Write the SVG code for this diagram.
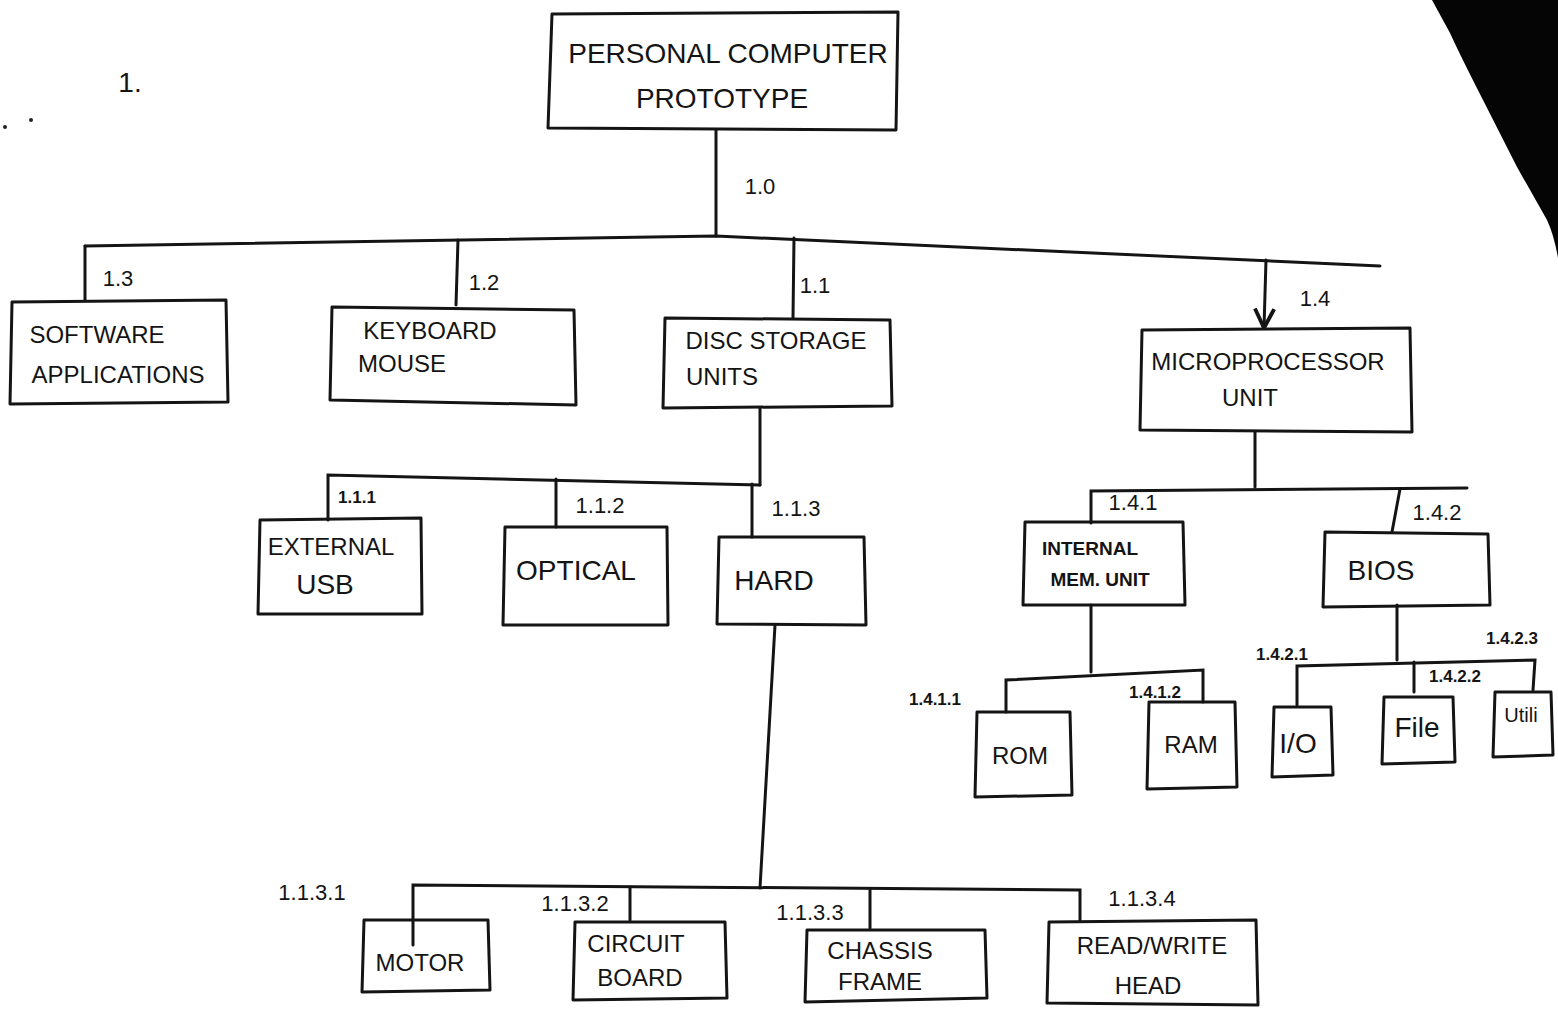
<svg xmlns="http://www.w3.org/2000/svg" width="1558" height="1011" viewBox="0 0 1558 1011">
<defs>
<style>
.box{fill:none;stroke:#141414;stroke-width:3;stroke-linejoin:round;stroke-linecap:round}
.ln{fill:none;stroke:#141414;stroke-width:3;stroke-linecap:round}
.t{font-family:"Liberation Sans",Arial,sans-serif;font-size:24px;fill:#141414;text-anchor:middle}
.tb{font-family:"Liberation Sans",Arial,sans-serif;font-size:28px;fill:#141414;text-anchor:middle}
.lb{font-family:"Liberation Sans",Arial,sans-serif;font-size:22px;fill:#141414;text-anchor:middle}
.ls{font-family:"Liberation Sans",Arial,sans-serif;font-size:17px;font-weight:bold;fill:#141414;text-anchor:middle}
</style>
<marker id="arr" viewBox="0 0 10 10" refX="9" refY="5" markerWidth="8" markerHeight="8" orient="auto-start-reverse">
<path d="M1,1 L9,5 L1,9" fill="none" stroke="#141414" stroke-width="1.6"/>
</marker>
</defs>
<rect width="1558" height="1011" fill="#ffffff"/>
<path d="M1432,0 L1558,0 L1558,258 Q1554,235 1547,220 L1517,167 L1483,100 Q1460,55 1450,33 Z" fill="#050505"/>
<text x="130" y="92" class="tb">1.</text>
<circle cx="5" cy="127" r="2" fill="#222"/>
<circle cx="31" cy="120" r="2" fill="#222"/>

<g id="connectors">
<path class="ln" d="M716,130 L716,236"/>
<path class="ln" d="M85,246 L716,236 L1380,266"/>
<path class="ln" d="M85,246 L85,300"/>
<path class="ln" d="M458,240 L456,305"/>
<path class="ln" d="M794,238 L793,318"/>
<path class="ln" d="M1266,260 L1264,328" marker-end="url(#arr)"/>
<path class="ln" d="M760,408 L760,485"/>
<path class="ln" d="M328,520 L328,475 L760,485"/>
<path class="ln" d="M556,479 L556,527"/>
<path class="ln" d="M752,484 L752,537"/>
<path class="ln" d="M775,625 L760,888"/>
<path class="ln" d="M413,945 L413,885 L1080,890 L1080,920"/>
<path class="ln" d="M630,887 L630,920"/>
<path class="ln" d="M870,889 L870,928"/>
<path class="ln" d="M1255,432 L1255,487"/>
<path class="ln" d="M1091,523 L1091,491 L1467,488"/>
<path class="ln" d="M1400,489 L1392,532"/>
<path class="ln" d="M1091,605 L1091,672"/>
<path class="ln" d="M1006,712 L1006,680 L1203,670 L1203,702"/>
<path class="ln" d="M1397,605 L1397,660"/>
<path class="ln" d="M1297,705 L1297,666 L1535,660 L1533,690"/>
<path class="ln" d="M1414,662 L1414,692"/>
<text x="760" y="194" class="lb">1.0</text>
<text x="118" y="286" class="lb">1.3</text>
<text x="484" y="290" class="lb">1.2</text>
<text x="815" y="293" class="lb">1.1</text>
<text x="1315" y="306" class="lb">1.4</text>
<text x="357" y="503" class="ls">1.1.1</text>
<text x="600" y="513" class="lb">1.1.2</text>
<text x="796" y="516" class="lb">1.1.3</text>
<text x="312" y="900" class="lb">1.1.3.1</text>
<text x="575" y="911" class="lb">1.1.3.2</text>
<text x="810" y="920" class="lb">1.1.3.3</text>
<text x="1142" y="906" class="lb">1.1.3.4</text>
<text x="1133" y="510" class="lb">1.4.1</text>
<text x="1437" y="520" class="lb">1.4.2</text>
<text x="935" y="705" class="ls">1.4.1.1</text>
<text x="1155" y="698" class="ls">1.4.1.2</text>
<text x="1282" y="660" class="ls">1.4.2.1</text>
<text x="1455" y="682" class="ls">1.4.2.2</text>
<text x="1512" y="644" class="ls">1.4.2.3</text>
</g>

<g id="n-root"><path class="box" d="M552,14 L898,12 L896,130 L548,128 Z"/>
<text x="728" y="63" class="tb">PERSONAL COMPUTER</text><text x="722" y="108" class="tb">PROTOTYPE</text></g>
<g id="n-software"><path class="box" d="M12,302 L226,300 L228,402 L10,404 Z"/>
<text x="97" y="343" class="t">SOFTWARE</text><text x="118" y="383" class="t">APPLICATIONS</text></g>
<g id="n-keyboard"><path class="box" d="M332,307 L574,310 L576,405 L330,400 Z"/>
<text x="430" y="339" class="t">KEYBOARD</text><text x="402" y="372" class="t">MOUSE</text></g>
<g id="n-disc"><path class="box" d="M665,318 L890,320 L892,406 L663,408 Z"/>
<text x="776" y="349" class="t">DISC STORAGE</text><text x="722" y="385" class="t">UNITS</text></g>
<g id="n-micro"><path class="box" d="M1142,330 L1410,328 L1412,432 L1140,430 Z"/>
<text x="1268" y="370" class="t">MICROPROCESSOR</text><text x="1250" y="406" class="t">UNIT</text></g>
<g id="n-external"><path class="box" d="M260,520 L421,518 L422,614 L258,614 Z"/>
<text x="331" y="555" class="t">EXTERNAL</text><text x="325" y="594" class="tb">USB</text></g>
<g id="n-optical"><path class="box" d="M505,527 L667,527 L668,625 L503,625 Z"/>
<text x="576" y="580" class="tb">OPTICAL</text></g>
<g id="n-hard"><path class="box" d="M719,537 L864,537 L866,625 L717,624 Z"/>
<text x="774" y="590" class="tb">HARD</text></g>
<g id="n-motor"><path class="box" d="M364,920 L488,920 L490,990 L362,992 Z"/>
<text x="420" y="971" class="t">MOTOR</text></g>
<g id="n-circuit"><path class="box" d="M575,922 L725,922 L727,998 L573,1000 Z"/>
<text x="636" y="952" class="t">CIRCUIT</text><text x="640" y="986" class="t">BOARD</text></g>
<g id="n-chassis"><path class="box" d="M807,930 L985,930 L987,998 L805,1002 Z"/>
<text x="880" y="959" class="t">CHASSIS</text><text x="880" y="990" class="t">FRAME</text></g>
<g id="n-rw"><path class="box" d="M1049,922 L1256,920 L1258,1005 L1047,1003 Z"/>
<text x="1152" y="954" class="t">READ/WRITE</text><text x="1148" y="994" class="t">HEAD</text></g>
<g id="n-internal"><path class="box" d="M1025,522 L1183,522 L1185,605 L1023,605 Z"/>
<text x="1090" y="555" class="ls" style="font-size:19px">INTERNAL</text><text x="1100" y="586" class="ls" style="font-size:19px">MEM. UNIT</text></g>
<g id="n-bios"><path class="box" d="M1325,532 L1488,534 L1490,605 L1323,607 Z"/>
<text x="1381" y="580" class="tb">BIOS</text></g>
<g id="n-rom"><path class="box" d="M977,712 L1070,712 L1072,795 L975,797 Z"/>
<text x="1020" y="764" class="t">ROM</text></g>
<g id="n-ram"><path class="box" d="M1149,702 L1235,702 L1237,787 L1147,789 Z"/>
<text x="1191" y="753" class="t">RAM</text></g>
<g id="n-io"><path class="box" d="M1274,707 L1331,707 L1333,775 L1272,777 Z"/>
<text x="1298" y="753" class="tb">I/O</text></g>
<g id="n-file"><path class="box" d="M1384,697 L1453,697 L1455,762 L1382,764 Z"/>
<text x="1417" y="737" class="tb">File</text></g>
<g id="n-utili"><path class="box" d="M1495,692 L1551,692 L1553,755 L1493,757 Z"/>
<text x="1521" y="722" class="t" style="font-size:20px">Utili</text></g>
</svg>
